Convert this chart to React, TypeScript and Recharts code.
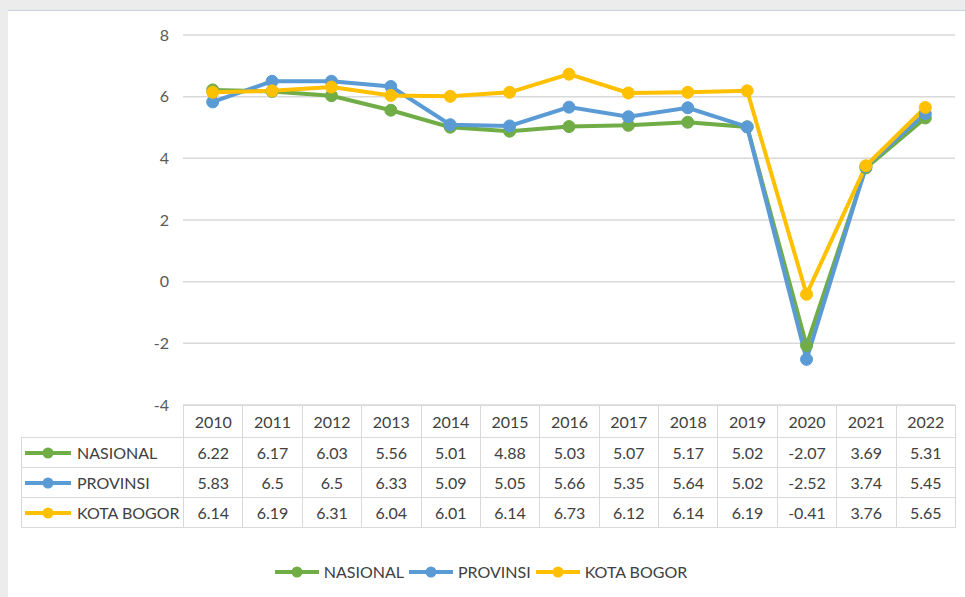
import React from 'react';
import { LineChart, Line, XAxis, YAxis, CartesianGrid } from 'recharts';

const years = ['2010', '2011', '2012', '2013', '2014', '2015', '2016', '2017', '2018', '2019', '2020', '2021', '2022'];
const nasional = [6.22, 6.17, 6.03, 5.56, 5.01, 4.88, 5.03, 5.07, 5.17, 5.02, -2.07, 3.69, 5.31];
const provinsi = [5.83, 6.5, 6.5, 6.33, 5.09, 5.05, 5.66, 5.35, 5.64, 5.02, -2.52, 3.74, 5.45];
const kotaBogor = [6.14, 6.19, 6.31, 6.04, 6.01, 6.14, 6.73, 6.12, 6.14, 6.19, -0.41, 3.76, 5.65];
const yTicks = [-4, -2, 0, 2, 4, 6, 8];

const series = [
  { key: 'nasional', name: 'NASIONAL', color: '#70AD47', values: nasional },
  { key: 'provinsi', name: 'PROVINSI', color: '#5B9BD5', values: provinsi },
  { key: 'kotaBogor', name: 'KOTA BOGOR', color: '#FFC000', values: kotaBogor },
];

const data = years.map((year, i) => ({
  year,
  nasional: nasional[i],
  provinsi: provinsi[i],
  kotaBogor: kotaBogor[i],
}));

const FONT = 'Lato, "Liberation Sans", sans-serif';
const TEXT = '#404040';
const BORDER = '#d9d9d9';

// plot area in page pixels
const PLOT_LEFT = 183;
const PLOT_RIGHT = 955;
const PLOT_TOP = 35;
const PLOT_BOTTOM = 405;
const TABLE_LEFT = 21;
const COL_W = (PLOT_RIGHT - PLOT_LEFT) / years.length;

const LegendKey: React.FC<{ color: string; width?: number }> = ({ color, width = 46 }) => (
  <svg width={width} height={12} style={{ display: 'block', flex: 'none' }}>
    <line x1={0} y1={6} x2={width} y2={6} stroke={color} strokeWidth={4} />
    <circle cx={width / 2} cy={6} r={5.5} fill={color} />
  </svg>
);

const App: React.FC = () => {
  const cell: React.CSSProperties = {
    border: `1px solid ${BORDER}`,
    textAlign: 'center',
    padding: 0,
    fontSize: 16,
    color: TEXT,
    overflow: 'hidden',
    whiteSpace: 'nowrap',
  };

  return (
    <div
      style={{
        position: 'absolute',
        left: 0,
        top: 0,
        width: 965,
        height: 597,
        background: '#ececec',
        fontFamily: FONT,
        overflow: 'hidden',
      }}
    >
      {/* white panel */}
      <div
        style={{
          position: 'absolute',
          left: 8,
          top: 10,
          width: 957,
          height: 587,
          background: '#ffffff',
          borderTop: '1px solid #c9d3e3',
        }}
      />

      {/* Chart */}
      <div style={{ position: 'absolute', left: 0, top: 0 }}>
        <LineChart
          width={965}
          height={597}
          data={data}
          margin={{ top: PLOT_TOP, right: 965 - PLOT_RIGHT, bottom: 597 - PLOT_BOTTOM, left: PLOT_LEFT - 70 }}
        >
          <CartesianGrid vertical={false} stroke={BORDER} strokeWidth={1.5} />
          <XAxis dataKey="year" hide padding={{ left: COL_W / 2, right: COL_W / 2 }} />
          <YAxis
            width={70}
            domain={[-4, 8]}
            ticks={yTicks}
            axisLine={false}
            tickLine={false}
            tickMargin={8}
            tick={{ fill: '#595959', fontSize: 16, fontFamily: FONT }}
          />
          {series.map((s) => (
            <Line
              key={s.key}
              type="linear"
              dataKey={s.key}
              name={s.name}
              stroke={s.color}
              strokeWidth={4}
              dot={{ r: 6, fill: s.color, stroke: s.color, strokeWidth: 1 }}
              activeDot={false}
              isAnimationActive={false}
            />
          ))}
        </LineChart>
      </div>

      {/* Data table */}
      <table
        style={{
          position: 'absolute',
          left: TABLE_LEFT,
          top: PLOT_BOTTOM,
          width: PLOT_RIGHT - TABLE_LEFT,
          borderCollapse: 'collapse',
          tableLayout: 'fixed',
          fontFamily: FONT,
        }}
      >
        <colgroup>
          <col style={{ width: PLOT_LEFT - TABLE_LEFT }} />
          {years.map((y) => (
            <col key={y} style={{ width: COL_W }} />
          ))}
        </colgroup>
        <tbody>
          <tr style={{ height: 32 }}>
            <td style={{ border: 'none', padding: 0 }} />
            {years.map((y) => (
              <td key={y} style={cell}>
                {y}
              </td>
            ))}
          </tr>
          {series.map((s) => (
            <tr key={s.key} style={{ height: 30 }}>
              <td style={{ ...cell, textAlign: 'left' }}>
                <div style={{ display: 'flex', alignItems: 'center', gap: 6, paddingLeft: 3 }}>
                  <LegendKey color={s.color} />
                  <span>{s.name}</span>
                </div>
              </td>
              {s.values.map((v, i) => (
                <td key={i} style={cell}>
                  {v}
                </td>
              ))}
            </tr>
          ))}
        </tbody>
      </table>

      {/* Legend */}
      <div
        style={{
          position: 'absolute',
          left: 0,
          width: 962,
          top: 562,
          display: 'flex',
          justifyContent: 'center',
          alignItems: 'center',
          gap: 5,
          fontSize: 16,
          color: TEXT,
        }}
      >
        {series.map((s) => (
          <div key={s.key} style={{ display: 'flex', alignItems: 'center', gap: 5 }}>
            <LegendKey color={s.color} width={44} />
            <span>{s.name}</span>
          </div>
        ))}
      </div>
    </div>
  );
};

export default App;
